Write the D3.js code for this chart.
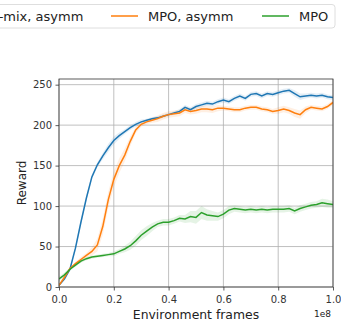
<!DOCTYPE html>
<html>
<head>
<meta charset="utf-8">
<script src="https://cdn.jsdelivr.net/npm/d3@7"></script>
<style>
  body { margin: 0; background: #fff; }
  svg { font-family: "DejaVu Sans", sans-serif; display: block; }
</style>
</head>
<body>
<div id="chart"></div>
<script>
// frames in units of 1e8
const frames = d3.range(0, 51).map(i => i * 0.02);

const seriesNames = ['MPO-mix, asymm', 'MPO, asymm', 'MPO'];
const seriesColors = ['#1f77b4', '#ff7f0e', '#2ca02c'];

const mixAsymm = [2, 10, 22, 48, 80, 110, 136, 151, 162, 172, 181, 187, 192, 197, 201, 204, 206, 208, 209, 211,
  213, 215, 217, 222, 219, 223, 225, 227, 226, 229, 231, 229, 233, 236, 233, 238, 239, 236, 239, 238,
  240, 242, 243, 239, 235, 236, 237, 236, 237, 235, 234];
const mpoAsymm = [2, 12, 23, 29, 34, 39, 44, 52, 75, 108, 133, 150, 163, 180, 194, 201, 204, 206, 208, 211,
  213, 214, 215, 219, 217, 218, 220, 220, 219, 221, 221, 220, 219, 219, 221, 222, 222, 220, 219, 217,
  218, 220, 218, 215, 213, 219, 222, 221, 220, 223, 228];
const mpo = [10, 15, 22, 27, 32, 35, 37, 38, 39, 40, 41, 44, 47, 51, 57, 64, 69, 74, 78, 80,
  80, 82, 85, 84, 87, 86, 92, 89, 88, 87, 90, 95, 97, 96, 95, 96, 95, 96, 95, 96,
  96, 96, 97, 94, 97, 99, 101, 102, 104, 103, 102];

// half width of the shaded spread
const mixAsymmSpread = [1, 2, 2, 3, 3, 3, 3, 3, 4, 5, 5, 4, 3, 3, 3, 3, 2, 2, 2, 2,
  2, 2, 3, 3, 3, 3, 3, 3, 3, 3, 3, 3, 3, 3, 3, 3, 3, 3, 3, 3,
  3, 3, 3, 4, 4, 3, 3, 3, 3, 3, 3];
const mpoAsymmSpread = [1, 2, 2, 2, 3, 3, 5, 8, 10, 10, 10, 9, 8, 6, 4, 3, 3, 3, 4, 4,
  4, 4, 4, 4, 4, 4, 4, 4, 4, 4, 3, 3, 3, 3, 3, 3, 3, 3, 3, 3,
  4, 4, 4, 5, 5, 4, 3, 3, 3, 3, 3];
const mpoSpread = [3, 3, 2, 2, 2, 2, 2, 2, 2, 2, 3, 3, 4, 5, 6, 6, 6, 5, 4, 4,
  4, 4, 4, 5, 7, 8, 8, 7, 6, 5, 5, 5, 4, 4, 4, 4, 4, 4, 4, 4,
  4, 4, 4, 4, 4, 4, 4, 4, 5, 5, 4];

const xTicks = [0, 0.2, 0.4, 0.6, 0.8, 1.0];
const yTicks = [0, 50, 100, 150, 200, 250];

const series = [
  { name: seriesNames[0], color: seriesColors[0], values: mixAsymm, spread: mixAsymmSpread },
  { name: seriesNames[1], color: seriesColors[1], values: mpoAsymm, spread: mpoAsymmSpread },
  { name: seriesNames[2], color: seriesColors[2], values: mpo, spread: mpoSpread }
];

const width = 341, height = 321;
const margin = { top: 79, right: 8, bottom: 34, left: 59 };
const plotW = width - margin.left - margin.right;
const plotH = height - margin.top - margin.bottom;

const svg = d3.select('#chart').append('svg')
  .attr('width', width)
  .attr('height', height);

const x = d3.scaleLinear().domain([0, 1.0]).range([0, plotW]);
const y = d3.scaleLinear().domain([0, 257]).range([plotH, 0]);

const g = svg.append('g').attr('transform', `translate(${margin.left},${margin.top})`);

// grid
g.append('g').selectAll('line.vgrid').data(xTicks).join('line')
  .attr('x1', d => x(d)).attr('x2', d => x(d))
  .attr('y1', 0).attr('y2', plotH)
  .attr('stroke', '#b0b0b0').attr('stroke-width', 0.8);
g.append('g').selectAll('line.hgrid').data(yTicks).join('line')
  .attr('x1', 0).attr('x2', plotW)
  .attr('y1', d => y(d)).attr('y2', d => y(d))
  .attr('stroke', '#b0b0b0').attr('stroke-width', 0.8);

svg.append('clipPath').attr('id', 'plotclip')
  .append('rect').attr('width', plotW).attr('height', plotH);

const plot = g.append('g').attr('clip-path', 'url(#plotclip)');

const area = d3.area()
  .x((d, i) => x(frames[i]))
  .y0(d => y(d[0] - d[1]))
  .y1(d => y(d[0] + d[1]));

const line = d3.line()
  .x((d, i) => x(frames[i]))
  .y(d => y(d));

series.forEach(s => {
  plot.append('path')
    .datum(s.values.map((v, i) => [v, s.spread[i]]))
    .attr('fill', s.color)
    .attr('fill-opacity', 0.12)
    .attr('d', area);
});
series.forEach(s => {
  plot.append('path')
    .datum(s.values)
    .attr('fill', 'none')
    .attr('stroke', s.color)
    .attr('stroke-width', 1.5)
    .attr('d', line);
});

// axes
const xAxis = g.append('g')
  .attr('transform', `translate(0,${plotH})`)
  .call(d3.axisBottom(x).tickValues(xTicks).tickFormat(d3.format('.1f')).tickSize(3.5).tickPadding(5));
const yAxis = g.append('g')
  .call(d3.axisLeft(y).tickValues(yTicks).tickSize(3.5).tickPadding(3.5));

[xAxis, yAxis].forEach(a => {
  a.select('.domain').remove();
  a.selectAll('.tick line').attr('stroke', '#333').attr('stroke-width', 0.8);
  a.selectAll('.tick text').attr('fill', '#333').attr('font-size', 10)
    .attr('font-family', '"DejaVu Sans", sans-serif');
});

// frame
g.append('rect')
  .attr('width', plotW).attr('height', plotH)
  .attr('fill', 'none').attr('stroke', '#333').attr('stroke-width', 0.8);

svg.append('text')
  .attr('x', margin.left + plotW / 2).attr('y', 318.5)
  .attr('text-anchor', 'middle').attr('font-size', 12.4).attr('fill', '#222')
  .text('Environment frames');

svg.append('text')
  .attr('x', margin.left + plotW - 2).attr('y', 316.5)
  .attr('text-anchor', 'end').attr('font-size', 9).attr('fill', '#222')
  .text('1e8');

svg.append('text')
  .attr('transform', `translate(26,${margin.top + plotH / 2}) rotate(-90)`)
  .attr('text-anchor', 'middle').attr('font-size', 12).attr('fill', '#222')
  .text('Reward');

// legend (clipped on the left like the original)
const legend = svg.append('g');
legend.append('rect')
  .attr('x', -120).attr('y', 4.5).attr('width', 455).attr('height', 23.5)
  .attr('rx', 3).attr('fill', '#fff').attr('stroke', '#d6d6d6').attr('stroke-width', 0.8);

const legendX = [-68, 111, 262];
series.forEach((s, i) => {
  const lg = legend.append('g').attr('transform', `translate(${legendX[i]},16)`);
  lg.append('line').attr('x1', 0).attr('x2', 27).attr('y1', 0).attr('y2', 0)
    .attr('stroke', s.color).attr('stroke-width', 1.5);
  lg.append('text').attr('x', 37).attr('y', 4.5)
    .attr('font-size', 13).attr('fill', '#222')
    .text(s.name);
});
</script>
</body>
</html>
